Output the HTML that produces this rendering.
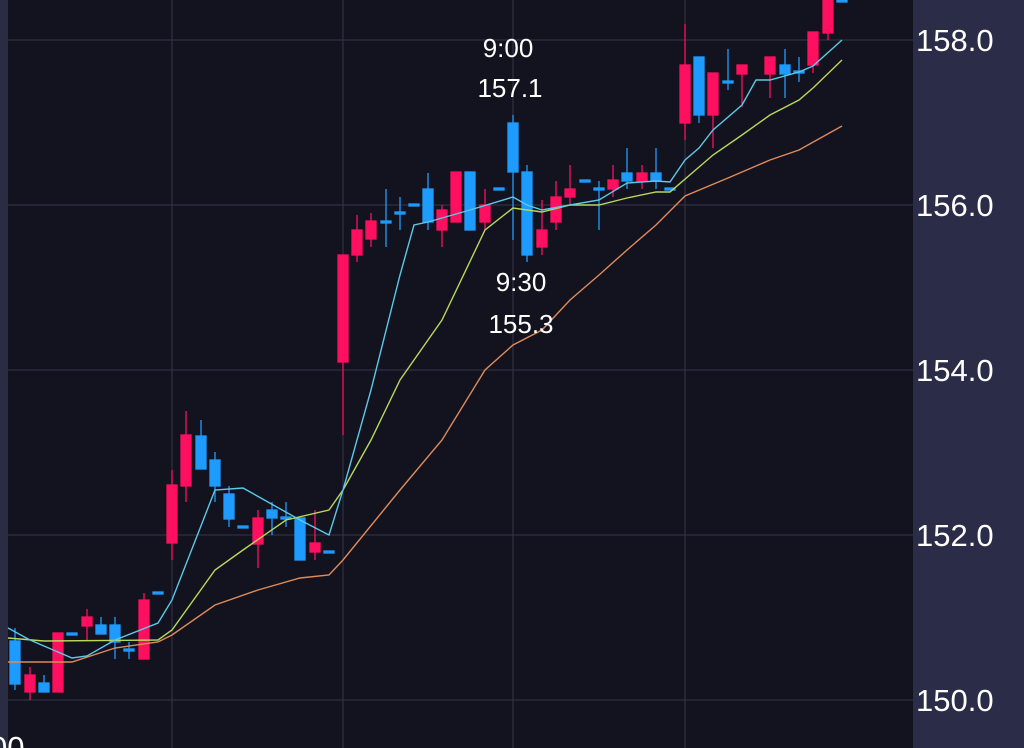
<!DOCTYPE html>
<html><head><meta charset="utf-8"><style>
html,body{margin:0;padding:0;background:#13131f;}
svg{display:block;font-family:"Liberation Sans",sans-serif;}
</style></head><body>
<svg width="1024" height="748" xmlns="http://www.w3.org/2000/svg">
<rect width="1024" height="748" fill="#13131f"/>
<rect x="0" y="0" width="8" height="748" fill="#2a2c44"/>
<rect x="913" y="0" width="111" height="748" fill="#2b2d48"/>
<g stroke="#34344a" stroke-width="1">
<line x1="8" y1="40" x2="913" y2="40"/><line x1="8" y1="205" x2="913" y2="205"/>
<line x1="8" y1="370" x2="913" y2="370"/><line x1="8" y1="535" x2="913" y2="535"/>
<line x1="8" y1="700" x2="913" y2="700"/>
<line x1="172" y1="0" x2="172" y2="748"/><line x1="343" y1="0" x2="343" y2="748"/>
<line x1="513" y1="0" x2="513" y2="748"/><line x1="685" y1="0" x2="685" y2="748"/>
</g>
<g stroke-width="1.3">
<g stroke="#1e9bff" fill="#1e9bff">
<line x1="15" y1="628" x2="15" y2="690"/><rect x="10" y="641" width="10" height="43"/>
<line x1="44" y1="675" x2="44" y2="692"/><rect x="39" y="683" width="10" height="9"/>
<rect x="67" y="633" width="10" height="2"/>
<line x1="101" y1="617" x2="101" y2="634"/><rect x="96" y="625" width="10" height="9"/>
<line x1="115" y1="617" x2="115" y2="659"/><rect x="110" y="625" width="10" height="17"/>
<line x1="129" y1="642" x2="129" y2="659"/><rect x="124" y="649" width="10" height="2"/>
<rect x="153" y="592" width="10" height="2"/>
<line x1="201" y1="420" x2="201" y2="469"/><rect x="196" y="436" width="10" height="33"/>
<line x1="215" y1="452" x2="215" y2="502"/><rect x="210" y="460" width="10" height="26"/>
<line x1="229" y1="486" x2="229" y2="527"/><rect x="224" y="494" width="10" height="25"/>
<rect x="238" y="526" width="10" height="2"/>
<line x1="272" y1="502" x2="272" y2="535"/><rect x="267" y="510" width="10" height="8"/>
<line x1="286" y1="502" x2="286" y2="527"/><rect x="281" y="517" width="10" height="2"/>
<rect x="295" y="518" width="10" height="42"/>
<rect x="324" y="551" width="10" height="2"/>
<line x1="386" y1="189" x2="386" y2="247"/><rect x="381" y="221" width="10" height="2"/>
<line x1="400" y1="197" x2="400" y2="230"/><rect x="395" y="212" width="10" height="2"/>
<rect x="409" y="204" width="10" height="2"/>
<line x1="428" y1="173" x2="428" y2="230"/><rect x="423" y="189" width="10" height="33"/>
<rect x="465" y="172" width="10" height="58"/>
<rect x="494" y="188" width="10" height="2"/>
<line x1="513" y1="115" x2="513" y2="240"/><rect x="508" y="123" width="10" height="49"/>
<line x1="527" y1="165" x2="527" y2="262"/><rect x="522" y="172" width="10" height="83"/>
<rect x="580" y="180" width="10" height="2"/>
<line x1="599" y1="181" x2="599" y2="230"/><rect x="594" y="188" width="10" height="2"/>
<line x1="627" y1="148" x2="627" y2="189"/><rect x="622" y="173" width="10" height="8"/>
<line x1="656" y1="148" x2="656" y2="189"/><rect x="651" y="173" width="10" height="8"/>
<rect x="665" y="188" width="10" height="2"/>
<line x1="699" y1="57" x2="699" y2="123"/><rect x="694" y="57" width="10" height="58"/>
<line x1="728" y1="49" x2="728" y2="90"/><rect x="723" y="81" width="10" height="2"/>
<line x1="785" y1="49" x2="785" y2="98"/><rect x="780" y="65" width="10" height="9"/>
<line x1="799" y1="57" x2="799" y2="82"/><rect x="794" y="71" width="10" height="2"/>
<rect x="837" y="0" width="10" height="2"/>
</g>
<g stroke="#ff0f5f" fill="#ff0f5f">
<line x1="30" y1="667" x2="30" y2="700"/><rect x="25" y="675" width="10" height="17"/>
<rect x="53" y="633" width="10" height="59"/>
<line x1="87" y1="609" x2="87" y2="641"/><rect x="82" y="617" width="10" height="9"/>
<line x1="144" y1="593" x2="144" y2="659"/><rect x="139" y="600" width="10" height="59"/>
<line x1="172" y1="470" x2="172" y2="560"/><rect x="167" y="485" width="10" height="58"/>
<line x1="186" y1="411" x2="186" y2="502"/><rect x="181" y="435" width="10" height="51"/>
<line x1="258" y1="510" x2="258" y2="568"/><rect x="253" y="518" width="10" height="26"/>
<line x1="315" y1="510" x2="315" y2="560"/><rect x="310" y="543" width="10" height="9"/>
<line x1="343" y1="255" x2="343" y2="435"/><rect x="338" y="255" width="10" height="107"/>
<line x1="357" y1="215" x2="357" y2="262"/><rect x="352" y="230" width="10" height="25"/>
<line x1="371" y1="213" x2="371" y2="247"/><rect x="366" y="221" width="10" height="18"/>
<line x1="442" y1="205" x2="442" y2="247"/><rect x="437" y="210" width="10" height="20"/>
<rect x="451" y="172" width="10" height="50"/>
<line x1="485" y1="189" x2="485" y2="230"/><rect x="480" y="205" width="10" height="17"/>
<line x1="542" y1="200" x2="542" y2="255"/><rect x="537" y="230" width="10" height="17"/>
<line x1="556" y1="181" x2="556" y2="230"/><rect x="551" y="197" width="10" height="25"/>
<line x1="570" y1="165" x2="570" y2="205"/><rect x="565" y="189" width="10" height="8"/>
<line x1="613" y1="165" x2="613" y2="197"/><rect x="608" y="180" width="10" height="9"/>
<line x1="642" y1="165" x2="642" y2="189"/><rect x="637" y="173" width="10" height="8"/>
<line x1="685" y1="24" x2="685" y2="140"/><rect x="680" y="65" width="10" height="58"/>
<line x1="713" y1="73" x2="713" y2="148"/><rect x="708" y="73" width="10" height="42"/>
<line x1="742" y1="65" x2="742" y2="107"/><rect x="737" y="65" width="10" height="9"/>
<line x1="770" y1="57" x2="770" y2="98"/><rect x="765" y="57" width="10" height="17"/>
<line x1="813" y1="32" x2="813" y2="73"/><rect x="808" y="32" width="10" height="33"/>
<line x1="828" y1="0" x2="828" y2="40"/><rect x="823" y="0" width="10" height="33"/>
</g>
</g>
<g fill="none" stroke-width="1.4">
<polyline stroke="#e08a5a" points="8,662 44,662 72,662 115,648 158,642 172,635 215,605 258,590 300,578 329,575 343,560 400,490 442,440 485,370 513,345 542,330 570,300 599,275 627,250 656,225 685,196 728,178 770,160 799,150 842,126"/>
<polyline stroke="#b8d85a" points="8,638 44,641 158,640 172,630 215,570 243,550 286,520 329,510 343,490 371,440 400,380 442,320 485,230 513,208 542,212 570,205 599,205 627,198 656,192 670,192 713,155 742,135 770,115 799,100 813,88 842,60"/>
<polyline stroke="#5cc8e8" points="8,628 30,640 72,658 87,656 115,640 158,623 172,600 215,490 243,488 300,520 329,535 343,490 371,390 400,275 414,225 428,222 470,210 513,197 527,205 542,210 570,205 599,200 627,183 656,181 670,182 685,160 699,148 713,130 742,105 756,80 770,80 799,72 813,66 842,40"/>
</g>
<g fill="#fff" font-size="26" text-anchor="middle">
<text x="508" y="57">9:00</text><text x="510" y="97">157.1</text>
<text x="521" y="291">9:30</text><text x="521" y="333">155.3</text>
</g>
<g fill="#fff" font-size="31">
<text x="916" y="51">158.0</text><text x="916" y="216">156.0</text>
<text x="916" y="381">154.0</text><text x="916" y="546">152.0</text>
<text x="916" y="711">150.0</text>
<text x="-10" y="758">00</text>
</g>
</svg>
</body></html>
